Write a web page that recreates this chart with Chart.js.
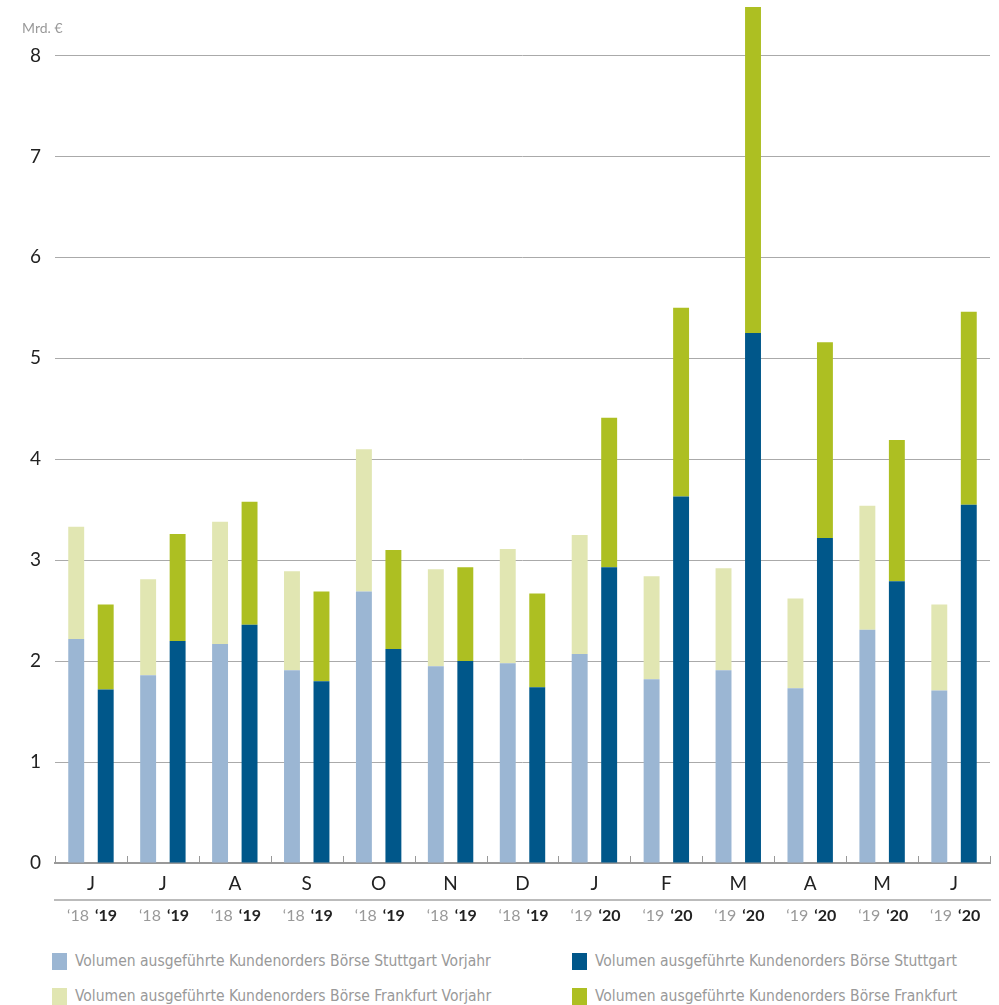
<!DOCTYPE html>
<html>
<head>
<meta charset="utf-8">
<script src="https://cdn.jsdelivr.net/npm/chart.js@4"></script>
<style>
  html, body { margin: 0; padding: 0; background: #fff; }
  #wrap { position: relative; width: 999px; height: 1005px; }
  #chart-box { position: absolute; left: 0; top: 0; width: 999px; height: 930px; }
  #unit { position: absolute; left: 22px; top: 19px; font: 14px Lato, sans-serif; color: #999; }
  .legend { position: absolute; left: 0; top: 952px; width: 999px; font: 15.5px "Liberation Sans Narrow", "DejaVu Sans Condensed", sans-serif; color: #999; }
  .item { position: absolute; display: flex; align-items: center; }
  .item i { display: inline-block; width: 15px; height: 17px; margin-right: 8px; }
</style>
</head>
<body>
<div id="wrap">
  <div id="chart-box"><canvas id="chart"></canvas></div>
  <div id="unit">Mrd. €</div>
  <div class="legend" id="legend"></div>
</div>
<script>
'use strict';

// ── Data ─────────────────────────────────────────────────────────────────────

const months = ['J', 'J', 'A', 'S', 'O', 'N', 'D', 'J', 'F', 'M', 'A', 'M', 'J'];
const yearLabels = [
  '‘18', '‘19', '‘18', '‘19', '‘18', '‘19', '‘18', '‘19', '‘18', '‘19', '‘18', '‘19', '‘18', '‘19',
  '‘19', '‘20', '‘19', '‘20', '‘19', '‘20', '‘19', '‘20', '‘19', '‘20', '‘19', '‘20',
];
const yTicks = [0, 1, 2, 3, 4, 5, 6, 7, 8];

const stuttgartPrev = [2.22, 1.86, 2.17, 1.91, 2.69, 1.95, 1.98, 2.07, 1.82, 1.91, 1.73, 2.31, 1.71];
const frankfurtPrev = [1.11, 0.95, 1.21, 0.98, 1.41, 0.96, 1.13, 1.18, 1.02, 1.01, 0.89, 1.23, 0.85];
const stuttgartCur  = [1.72, 2.20, 2.36, 1.80, 2.12, 2.00, 1.74, 2.93, 3.63, 5.25, 3.22, 2.79, 3.55];
const frankfurtCur  = [0.84, 1.06, 1.22, 0.89, 0.98, 0.93, 0.93, 1.48, 1.87, 3.23, 1.94, 1.40, 1.91];

const legendNames = [
  'Volumen ausgeführte Kundenorders Börse Stuttgart Vorjahr',
  'Volumen ausgeführte Kundenorders Börse Stuttgart',
  'Volumen ausgeführte Kundenorders Börse Frankfurt Vorjahr',
  'Volumen ausgeführte Kundenorders Börse Frankfurt',
];

const C_PREV_S = '#9bb6d3';
const C_PREV_F = '#e1e6b2';
const C_CUR_S  = '#00578a';
const C_CUR_F  = '#adbf22';

// ── Axis decoration: small upward ticks between months ───────────────────────

const axisDecor = {
  id: 'axisDecor',
  afterDatasetsDraw(chart) {
    const { ctx, scales: { x } } = chart;
    const step = (x.right - x.left) / months.length;
    ctx.save();
    ctx.strokeStyle = '#999';
    ctx.lineWidth = 1;
    for (let i = 0; i <= months.length; i++) {
      const px = Math.round(x.left + i * step) + 0.5;
      ctx.beginPath();
      ctx.moveTo(px, x.top);
      ctx.lineTo(px, x.top - 7);
      ctx.stroke();
    }
    ctx.restore();
  },
};

// ── Chart ────────────────────────────────────────────────────────────────────

const ds = (label, data, color, stack) => ({
  label, data, stack,
  backgroundColor: color,
  borderWidth: 0,
  categoryPercentage: 0.82,
  barPercentage: 0.54,
});

new Chart(document.getElementById('chart'), {
  type: 'bar',
  data: {
    labels: months,
    datasets: [
      ds(legendNames[0], stuttgartPrev, C_PREV_S, 'prev'),
      ds(legendNames[2], frankfurtPrev, C_PREV_F, 'prev'),
      ds(legendNames[1], stuttgartCur, C_CUR_S, 'cur'),
      ds(legendNames[3], frankfurtCur, C_CUR_F, 'cur'),
    ],
  },
  options: {
    responsive: true,
    maintainAspectRatio: false,
    animation: false,
    layout: { padding: { top: 5, right: 9, left: 0, bottom: 0 } },
    plugins: { legend: { display: false }, tooltip: { enabled: false } },
    scales: {
      y: {
        stacked: true,
        min: 0, max: 8.5,
        afterBuildTicks: s => { s.ticks = yTicks.map(v => ({ value: v })); },
        afterFit: s => { s.width = 55; s.paddingTop = 0; s.paddingBottom = 0; },
        grid: { color: '#aaa', lineWidth: 1, drawTicks: false },
        border: { display: false },
        ticks: { color: '#222', padding: 14, font: { family: 'Lato', size: 19 } },
      },
      x: {
        stacked: true,
        afterFit: s => { s.height = 37; },
        grid: { display: false, drawTicks: false },
        border: { display: true, color: '#999', width: 2 },
        ticks: { color: '#222', padding: 9, font: { family: 'Lato', size: 19 } },
      },
      x2: {
        type: 'linear',
        position: 'bottom',
        offset: false,
        min: -0.5, max: 12.5,
        afterBuildTicks: s => {
          s.ticks = months.flatMap((m, i) => [{ value: i - 0.18 }, { value: i + 0.21 }]);
        },
        afterFit: s => { s.height = 30; },
        grid: { display: false, drawTicks: false, offset: false },
        border: { display: true, color: '#bbb', width: 2 },
        ticks: {
          padding: 6,
          maxRotation: 0,
          autoSkip: false,
          callback: (v, i) => yearLabels[i],
          color: c => (c.index % 2 ? '#222' : '#999'),
          font: c => ({ family: 'Lato', size: 16, weight: c.index % 2 ? 'bold' : 'normal' }),
        },
      },
    },
  },
  plugins: [axisDecor],
});

// ── Legend ───────────────────────────────────────────────────────────────────

const legendColors = [C_PREV_S, C_CUR_S, C_PREV_F, C_CUR_F];
const legendPos = [[52, 0], [572, 0], [52, 35], [572, 35]];
document.getElementById('legend').innerHTML = legendNames.map((n, i) =>
  `<div class="item" style="left:${legendPos[i][0]}px;top:${legendPos[i][1]}px"><i style="background:${legendColors[i]}"></i>${n}</div>`
).join('');
</script>
</body>
</html>
